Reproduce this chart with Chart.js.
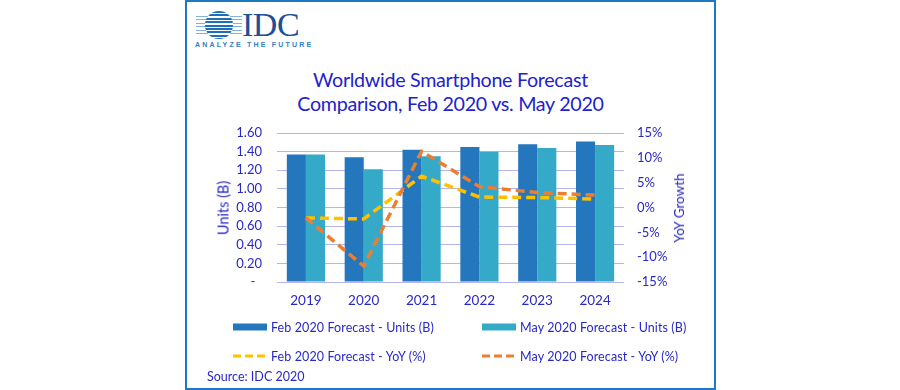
<!DOCTYPE html>
<html lang="en">
<head>
  <meta charset="UTF-8">
  <title>Worldwide Smartphone Forecast</title>
  <script src="https://cdn.jsdelivr.net/npm/chart.js"></script>
  <style>
    body {
      margin: 0;
      background: #fff;
      font-family: Lato, "Open Sans", sans-serif;
      color: #2828c8;
    }
    .frame {
      position: absolute;
      left: 185px;
      top: 0px;
      width: 527px;
      height: 386px;
      border: 2px solid #1f78c4;
    }
    canvas {
      position: absolute;
      left: 0;
      top: 0;
    }
    .logo-ball {
      position: absolute;
      left: 205px;
      top: 11px;
      width: 28px;
      height: 28px;
      border-radius: 50%;
      background: repeating-linear-gradient(to bottom, #1d6fb8 0px, #1d6fb8 2px, #ffffff 2px, #ffffff 3.4px);
    }
    .logo-lines {
      position: absolute;
      left: 196px;
      top: 16px;
      width: 46px;
      height: 18px;
      background: repeating-linear-gradient(to bottom, #7fb2dd 0px, #7fb2dd 1px, transparent 1px, transparent 3.4px);
      z-index: -1;
    }
    .logo-idc {
      position: absolute;
      left: 242px;
      top: 6px;
      font-family: "Liberation Serif", "DejaVu Serif", serif;
      font-size: 34px;
      color: #1c4f98;
      letter-spacing: -0.5px;
    }
    .logo-tag {
      position: absolute;
      left: 195px;
      top: 41px;
      font-family: "Liberation Sans", sans-serif;
      font-weight: bold;
      font-size: 7px;
      letter-spacing: 2.2px;
      color: #2e7fc4;
    }
    .title {
      position: absolute;
      left: 185px;
      width: 531px;
      top: 68px;
      text-align: center;
      font-size: 19.7px;
      line-height: 23.5px;
      letter-spacing: -0.3px;
      color: #2222cc;
    }
    .axis-title {
      position: absolute;
      white-space: nowrap;
      transform: translate(-50%, -50%) rotate(-90deg);
    }
    .legend-item {
      position: absolute;
      font-size: 12.5px;
      letter-spacing: 0.1px;
      white-space: nowrap;
      display: flex;
      align-items: center;
      transform: translateY(-50%);
    }
    .legend-item .sw {
      width: 34px;
      margin-right: 4px;
    }
    .source {
      position: absolute;
      left: 207px;
      top: 369px;
      font-size: 12.5px;
    }
  </style>
</head>
<body>
  <div class="frame"></div>
  <div class="logo-lines"></div>
  <div class="logo-ball"></div>
  <div class="logo-idc">IDC</div>
  <div class="logo-tag">ANALYZE THE FUTURE</div>
  <div class="title">Worldwide Smartphone Forecast<br>Comparison, Feb 2020 vs. May 2020</div>
  <canvas id="chart" width="900" height="390"></canvas>
  <div class="axis-title" style="left:223px; top:208px; font-size:14.5px;">Units (B)</div>
  <div class="axis-title" style="left:679px; top:208px; font-size:13.5px;">YoY Growth</div>
  <div id="legend"></div>
  <div class="source">Source: IDC 2020</div>

  <script>
    // data
    const years = ['2019', '2020', '2021', '2022', '2023', '2024'];
    const febUnits = [1.37, 1.34, 1.42, 1.45, 1.48, 1.51];
    const mayUnits = [1.37, 1.21, 1.35, 1.40, 1.44, 1.47];
    const febYoY = [-2.1, -2.3, 6.3, 2.1, 2.0, 1.7];
    const mayYoY = [-2.1, -11.8, 11.3, 4.2, 3.0, 2.5];

    const textColor = '#2828c8';
    const gridColor = '#b4b4f0';
    const darkBlue = '#2577bd';
    const lightBlue = '#35aac8';
    const yellow = '#ffc000';
    const orange = '#ed7d31';

    Chart.defaults.font.family = 'Lato, "Open Sans", sans-serif';
    Chart.defaults.color = textColor;

    const ctx = document.getElementById('chart').getContext('2d');
    const chart = new Chart(ctx, {
      data: {
        labels: years,
        datasets: [
          {
            type: 'line',
            label: 'Feb 2020 Forecast - YoY (%)',
            data: febYoY,
            yAxisID: 'y1',
            borderColor: yellow,
            backgroundColor: yellow,
            borderWidth: 3.5,
            borderDash: [9, 5],
            pointRadius: 0,
            tension: 0,
            order: 1
          },
          {
            type: 'line',
            label: 'May 2020 Forecast - YoY (%)',
            data: mayYoY,
            yAxisID: 'y1',
            borderColor: orange,
            backgroundColor: orange,
            borderWidth: 3.5,
            borderDash: [9, 5],
            pointRadius: 0,
            tension: 0,
            order: 0
          },
          {
            type: 'bar',
            label: 'Feb 2020 Forecast - Units (B)',
            data: febUnits,
            yAxisID: 'y',
            backgroundColor: darkBlue,
            categoryPercentage: 0.66,
            barPercentage: 1,
            order: 2
          },
          {
            type: 'bar',
            label: 'May 2020 Forecast - Units (B)',
            data: mayUnits,
            yAxisID: 'y',
            backgroundColor: lightBlue,
            categoryPercentage: 0.66,
            barPercentage: 1,
            order: 2
          }
        ]
      },
      options: {
        responsive: false,
        animation: false,
        devicePixelRatio: 1,
        layout: {
          padding: { left: 205, right: 200, top: 133, bottom: 68 }
        },
        plugins: {
          legend: { display: false },
          title: { display: false },
          tooltip: { enabled: false }
        },
        scales: {
          x: {
            grid: { display: false, drawTicks: false },
            border: { display: false },
            ticks: { padding: 11, font: { size: 13.5 }, color: textColor },
            afterFit: (s) => { s.height = 40; }
          },
          y: {
            position: 'left',
            min: 0,
            max: 1.6,
            ticks: {
              stepSize: 0.2,
              autoSkip: false,
              padding: 15,
              font: { size: 13 },
              color: textColor,
              callback: (v) => v === 0 ? '-  ' : v.toFixed(2)
            },
            grid: { color: gridColor, lineWidth: 1, drawTicks: false },
            border: { display: false },
            afterFit: (s) => { s.width = 72; }
          },
          y1: {
            position: 'right',
            min: -15,
            max: 15,
            ticks: {
              stepSize: 5,
              autoSkip: false,
              padding: 13,
              font: { size: 13 },
              color: textColor,
              callback: (v) => v + '%'
            },
            grid: { display: false, drawTicks: false },
            border: { display: false },
            afterFit: (s) => { s.width = 76; }
          }
        }
      }
    });

    // html legend, two columns like the original
    const legendOrder = [2, 3, 0, 1];
    const legendPos = [[233, 327], [482, 327], [233, 356], [482, 356]];
    const legend = document.getElementById('legend');
    legendOrder.forEach((di, i) => {
      const ds = chart.data.datasets[di];
      const item = document.createElement('div');
      item.className = 'legend-item';
      item.style.left = legendPos[i][0] + 'px';
      item.style.top = legendPos[i][1] + 'px';
      const sw = document.createElement('span');
      sw.className = 'sw';
      if (ds.type === 'bar') {
        sw.style.height = '7px';
        sw.style.background = ds.backgroundColor;
      } else {
        sw.style.height = '3px';
        sw.style.background = 'repeating-linear-gradient(to right, ' + ds.borderColor + ' 0px, ' +
          ds.borderColor + ' 8px, transparent 8px, transparent 12px)';
      }
      const label = document.createElement('span');
      label.textContent = ds.label;
      item.appendChild(sw);
      item.appendChild(label);
      legend.appendChild(item);
    });
  </script>
</body>
</html>
